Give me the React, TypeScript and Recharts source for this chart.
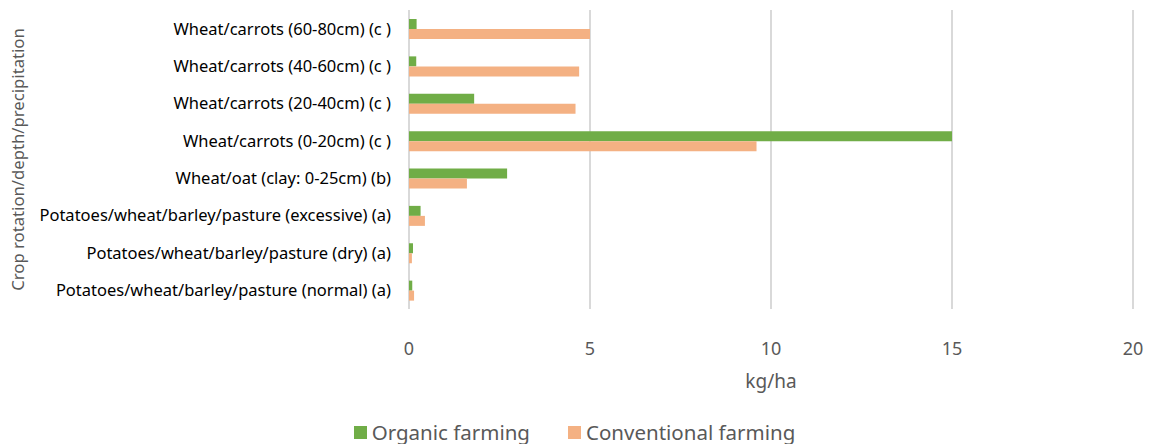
import React from "react"
import { BarChart, Bar, XAxis, YAxis, CartesianGrid, Legend } from "recharts"

const categories = [
  "Wheat/carrots (60-80cm) (c )",
  "Wheat/carrots (40-60cm) (c )",
  "Wheat/carrots (20-40cm) (c )",
  "Wheat/carrots (0-20cm) (c )",
  "Wheat/oat (clay: 0-25cm) (b)",
  "Potatoes/wheat/barley/pasture (excessive) (a)",
  "Potatoes/wheat/barley/pasture (dry) (a)",
  "Potatoes/wheat/barley/pasture (normal) (a)",
]
const organic = [0.21, 0.2, 1.8, 15.0, 2.71, 0.32, 0.11, 0.09]
const conventional = [5.0, 4.7, 4.6, 9.6, 1.6, 0.44, 0.08, 0.14]
const xTicks = [0, 5, 10, 15, 20]

const series = [
  { key: "organic", name: "Organic farming", color: "#70ad47" },
  { key: "conventional", name: "Conventional farming", color: "#f4b183" },
]

const data = categories.map((name, i) => ({
  name,
  organic: organic[i],
  conventional: conventional[i],
}))

const FONT = "'Noto Sans', sans-serif"
const GREY = "#595959"

const LegendContent = () => (
  <div style={{ display: "flex", justifyContent: "center", alignItems: "center", paddingLeft: 16, fontSize: 20.5, color: GREY, fontFamily: FONT }}>
    {series.map((s) => (
      <div key={s.key} style={{ display: "flex", alignItems: "center", margin: "0 19px" }}>
        <span style={{ display: "inline-block", width: 13, height: 13, background: s.color, marginRight: 5 }} />
        <span>{s.name}</span>
      </div>
    ))}
  </div>
)

export default function App() {
  return (
    <div style={{ position: "absolute", left: 0, top: 0, width: 1154, height: 444, fontFamily: FONT }}>
      <BarChart
        width={1154}
        height={444}
        data={data}
        layout="vertical"
        margin={{ top: 10, right: 21, bottom: 22, left: 0 }}
        barGap={0}
        barSize={10}
      >
        <CartesianGrid horizontal={false} stroke="#d9d9d9" strokeWidth={2} />
        <XAxis
          type="number"
          domain={[0, 20]}
          ticks={xTicks}
          axisLine={false}
          tickLine={false}
          tickMargin={27}
          height={85}
          tick={{ fill: GREY, fontSize: 18, fontFamily: FONT }}
          label={{ value: "kg/ha", position: "insideBottom", offset: 6, fill: GREY, fontSize: 19, fontFamily: FONT }}
        />
        <YAxis
          type="category"
          dataKey="name"
          width={409}
          axisLine={false}
          tickLine={false}
          tickMargin={12}
          tick={{ fill: "#000", fontSize: 16.5, fontFamily: FONT }}
          label={{
            value: "Crop rotation/depth/precipitation",
            angle: -90,
            position: "insideLeft",
            offset: 18,
            fill: GREY,
            fontSize: 16.7,
            fontFamily: FONT,
            style: { textAnchor: "middle" },
          }}
        />
        <Legend verticalAlign="bottom" content={LegendContent} wrapperStyle={{ top: 418 }} />
        {series.map((s) => (
          <Bar key={s.key} dataKey={s.key} name={s.name} fill={s.color} isAnimationActive={false} />
        ))}
      </BarChart>
    </div>
  )
}
